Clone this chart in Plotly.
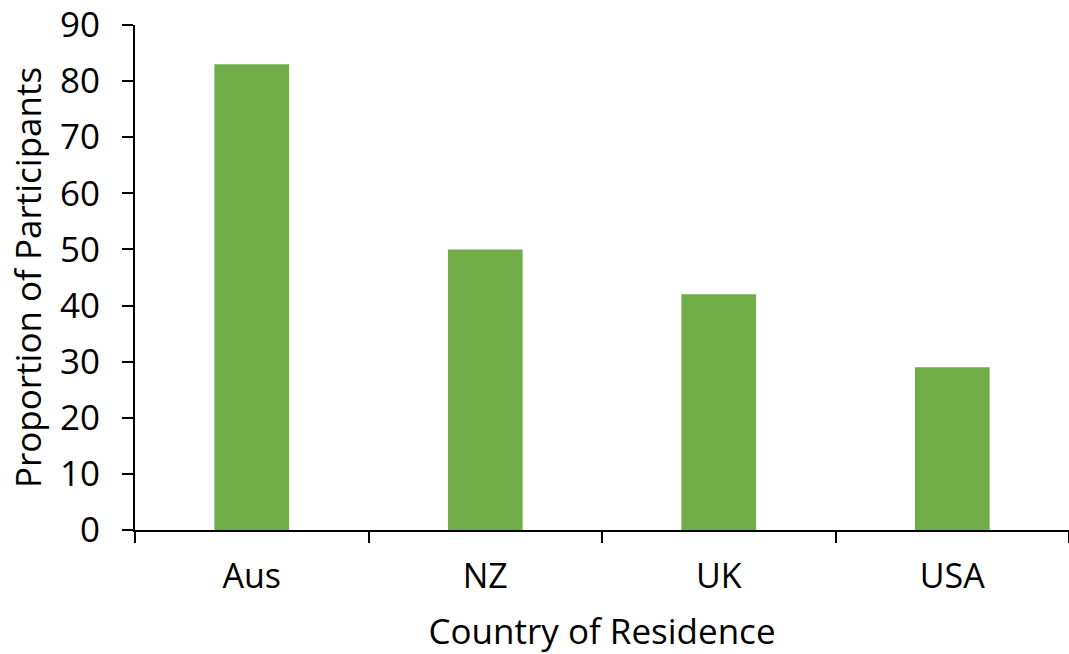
import plotly.graph_objects as go

countries = ["Aus", "NZ", "UK", "USA"]
proportions = [83, 50, 42, 29]
y_ticks = [0, 10, 20, 30, 40, 50, 60, 70, 80, 90]

font_family = "'Open Sans', 'Noto Sans', sans-serif"

fig = go.Figure(
    go.Bar(
        x=countries,
        y=proportions,
        marker=dict(color="#70AD47", line=dict(width=0)),
        width=0.32,
    )
)

fig.update_layout(
    width=1069,
    height=654,
    margin=dict(l=135, r=0, t=25, b=124),
    paper_bgcolor="white",
    plot_bgcolor="white",
    showlegend=False,
    font=dict(family=font_family, color="black"),
)

fig.update_xaxes(
    showline=True,
    linecolor="black",
    linewidth=2,
    ticks="outside",
    ticklen=11,
    tickwidth=1.5,
    tickcolor="black",
    tickson="boundaries",
    tickfont=dict(size=34),
    ticklabelstandoff=15,
    title=dict(text="Country of Residence", font=dict(size=35), standoff=25),
)

fig.update_yaxes(
    range=[0, 90],
    tickvals=y_ticks,
    showline=True,
    linecolor="black",
    linewidth=2,
    ticks="outside",
    ticklen=11,
    tickwidth=1.5,
    tickcolor="black",
    showgrid=False,
    zeroline=False,
    tickfont=dict(size=35),
    ticklabelstandoff=15,
    title=dict(text="Proportion of Participants", font=dict(size=35), standoff=8),
)

fig.write_html("out.html")
